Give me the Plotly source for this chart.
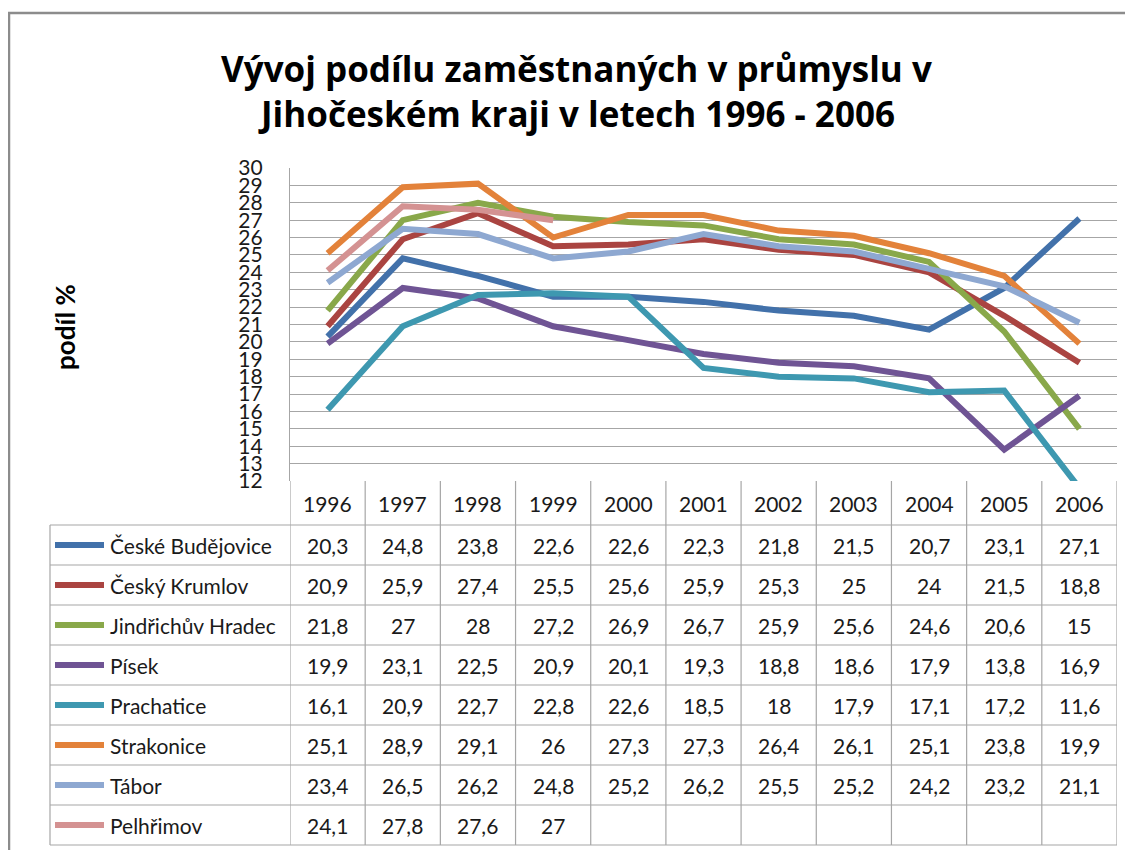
import plotly.graph_objects as go

years = ["1996", "1997", "1998", "1999", "2000", "2001", "2002", "2003", "2004", "2005", "2006"]
series_names = ["České Budějovice", "Český Krumlov", "Jindřichův Hradec", "Písek",
                "Prachatice", "Strakonice", "Tábor", "Pelhřimov"]
ceske_budejovice = [20.3, 24.8, 23.8, 22.6, 22.6, 22.3, 21.8, 21.5, 20.7, 23.1, 27.1]
cesky_krumlov = [20.9, 25.9, 27.4, 25.5, 25.6, 25.9, 25.3, 25, 24, 21.5, 18.8]
jindrichuv_hradec = [21.8, 27, 28, 27.2, 26.9, 26.7, 25.9, 25.6, 24.6, 20.6, 15]
pisek = [19.9, 23.1, 22.5, 20.9, 20.1, 19.3, 18.8, 18.6, 17.9, 13.8, 16.9]
prachatice = [16.1, 20.9, 22.7, 22.8, 22.6, 18.5, 18, 17.9, 17.1, 17.2, 11.6]
strakonice = [25.1, 28.9, 29.1, 26, 27.3, 27.3, 26.4, 26.1, 25.1, 23.8, 19.9]
tabor = [23.4, 26.5, 26.2, 24.8, 25.2, 26.2, 25.5, 25.2, 24.2, 23.2, 21.1]
pelhrimov = [24.1, 27.8, 27.6, 27, None, None, None, None, None, None, None]
y_ticks = list(range(12, 31))

all_series = [ceske_budejovice, cesky_krumlov, jindrichuv_hradec, pisek,
              prachatice, strakonice, tabor, pelhrimov]
colors = ["#4271AA", "#AA4441", "#89A84A", "#6F5494", "#3E98B0", "#E3823A", "#8EA8D1", "#D49292"]

FONT = "Lato"
TITLE_FONT = "Open Sans"
OFF = 8  # page body margin
W, H = 1133 - OFF, 850 - OFF
X0, X1, Y0, Y1 = 290, 1117, 168, 481  # plot area in page pixels


def px(x):
    return (x - X0) / (X1 - X0)


def py(y):
    return (Y1 - y) / (Y1 - Y0)


def fmt(v):
    if v is None:
        return ""
    return f"{v:g}".replace(".", ",")


fig = go.Figure()
xs = list(range(len(years)))
for name, vals, col in zip(series_names, all_series, colors):
    fig.add_trace(go.Scatter(x=xs, y=vals, mode="lines", name=name,
                             line=dict(color=col, width=6), showlegend=False,
                             connectgaps=False))

shapes = []
annots = []
grid_col = "#a6a6a6"
txt_col = "#1a1a1a"

# outer chart border
shapes.append(dict(type="rect", xref="paper", yref="paper", x0=px(9), x1=px(1145),
                   y0=py(13), y1=py(870), line=dict(color="#8c8c8c", width=2.5)))

# header row vertical separators
for i in range(len(years) + 1):
    shapes.append(dict(type="line", xref="x", yref="paper", x0=i - 0.5, x1=i - 0.5,
                       y0=py(481), y1=py(525), line=dict(color=grid_col, width=1.2)))
# table body
row_top = 525
row_h = 40
n_rows = len(series_names)
for r in range(n_rows + 1):
    yy = row_top + r * row_h
    shapes.append(dict(type="line", xref="paper", yref="paper", x0=px(50), x1=px(1117),
                       y0=py(yy), y1=py(yy), line=dict(color=grid_col, width=1.2)))
shapes.append(dict(type="line", xref="paper", yref="paper", x0=px(50), x1=px(50),
                   y0=py(row_top), y1=py(row_top + n_rows * row_h),
                   line=dict(color=grid_col, width=1.2)))
for i in range(len(years) + 1):
    shapes.append(dict(type="line", xref="x", yref="paper", x0=i - 0.5, x1=i - 0.5,
                       y0=py(row_top), y1=py(row_top + n_rows * row_h),
                       line=dict(color=grid_col, width=1.2)))

# header labels
for i, yr in enumerate(years):
    annots.append(dict(x=i, y=py(503), xref="x", yref="paper", text=yr, showarrow=False,
                       font=dict(family=FONT, size=21, color=txt_col),
                       xanchor="center", yanchor="middle"))

# rows
for r, (name, vals, col) in enumerate(zip(series_names, all_series, colors)):
    cy = row_top + r * row_h + row_h / 2
    shapes.append(dict(type="line", xref="paper", yref="paper", x0=px(55), x1=px(104),
                       y0=py(cy), y1=py(cy), line=dict(color=col, width=6)))
    annots.append(dict(x=px(108), y=py(cy), xref="paper", yref="paper", text=name,
                       showarrow=False, font=dict(family=FONT, size=21, color=txt_col),
                       xanchor="left", yanchor="middle"))
    for i, v in enumerate(vals):
        if v is None:
            continue
        annots.append(dict(x=i, y=py(cy), xref="x", yref="paper", text=fmt(v),
                           showarrow=False, font=dict(family=FONT, size=21, color=txt_col),
                           xanchor="center", yanchor="middle"))

# title
annots.append(dict(x=px(576), y=py(68), xref="paper", yref="paper",
                   text="<b>Vývoj podílu zaměstnaných v průmyslu v</b>", showarrow=False,
                   font=dict(family=TITLE_FONT, size=35, color="#000000"),
                   xanchor="center", yanchor="middle"))
annots.append(dict(x=px(576), y=py(113), xref="paper", yref="paper",
                   text="<b>Jihočeském kraji v letech 1996 - 2006</b>", showarrow=False,
                   font=dict(family=TITLE_FONT, size=35, color="#000000"),
                   xanchor="center", yanchor="middle"))
# y axis title
annots.append(dict(x=px(65), y=py(327), xref="paper", yref="paper",
                   text="<b>podíl %</b>", showarrow=False, textangle=-90,
                   font=dict(family=FONT, size=26, color="#000000"),
                   xanchor="center", yanchor="middle"))

fig.update_layout(
    width=W, height=H,
    margin=dict(l=X0 - OFF, r=W - (X1 - OFF), t=Y0 - OFF, b=H - (Y1 - OFF), pad=0),
    paper_bgcolor="white", plot_bgcolor="white",
    shapes=shapes, annotations=annots,
    xaxis=dict(range=[-0.5, len(years) - 0.5], showgrid=False, zeroline=False,
               showticklabels=False, ticks="", showline=False, fixedrange=True),
    yaxis=dict(range=[12, 30], tickvals=y_ticks, ticktext=[str(t) for t in y_ticks],
               showgrid=True, gridcolor=grid_col, gridwidth=1.2, zeroline=False,
               showline=True, linecolor=grid_col, linewidth=1.2,
               ticks="", ticklabelstandoff=22,
               tickfont=dict(family=FONT, size=21, color=txt_col), fixedrange=True),
)

fig.write_html("out.html")
